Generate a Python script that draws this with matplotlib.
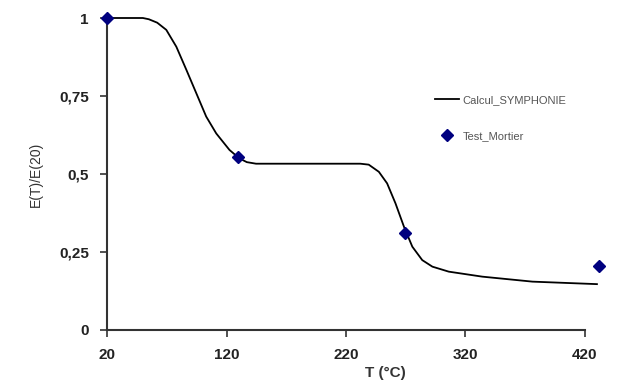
import matplotlib.pyplot as plt

# calculated curve (Calcul_SYMPHONIE)
calc_t = [20, 50, 55, 62, 69.6, 78, 86.5, 94.7, 103, 111.4, 122.5, 130.8, 137, 144.7,
          232, 239, 247.5, 254.4, 261.4, 268.5, 275.5, 283.8, 292.3, 306, 334, 376, 430]
calc_e = [1.0, 1.0, 0.996, 0.985, 0.962, 0.908, 0.833, 0.759, 0.684, 0.63, 0.577, 0.55, 0.538, 0.533,
          0.533, 0.53, 0.507, 0.47, 0.406, 0.331, 0.267, 0.224, 0.203, 0.187, 0.171, 0.155, 0.147]

# measured points (Test_Mortier)
test_t = [20, 130, 269, 432]
test_e = [1.0, 0.554, 0.311, 0.205]

xticks = [20, 120, 220, 320, 420]
yticks = [0, 0.25, 0.5, 0.75, 1]
ytick_labels = ['0', '0,25', '0,5', '0,75', '1']

fig = plt.figure(figsize=(6.42, 3.83), dpi=100)
ax = fig.add_axes([0.1667, 0.1384, 0.7445, 0.8146])

ax.plot(calc_t, calc_e, color='black', lw=1.3, clip_on=False, label='Calcul_SYMPHONIE',
        solid_joinstyle='round')
ax.plot(test_t, test_e, 'D', color='#00007f', ms=6, ls='none', clip_on=False,
        label='Test_Mortier', zorder=3)

ax.set_xlim(20, 420)
ax.set_ylim(0, 1)
ax.set_xticks(xticks)
ax.set_xticklabels([str(t) for t in xticks])
ax.set_yticks(yticks)
ax.set_yticklabels(ytick_labels)

for s in ['top', 'right']:
    ax.spines[s].set_visible(False)
for s in ['left', 'bottom']:
    ax.spines[s].set_color('#333333')
    ax.spines[s].set_linewidth(1.5)
ax.tick_params(direction='out', length=5, width=1.2, color='#333333', pad=8)
for lbl in ax.get_xticklabels() + ax.get_yticklabels():
    lbl.set_fontfamily('Liberation Sans')
    lbl.set_fontweight('bold')
    lbl.set_fontsize(11)
    lbl.set_color('#222222')

ax.set_ylabel('E(T)/E(20)', fontsize=10, family='Liberation Sans', color='#333333', labelpad=12)
# x label sits just right of the 220 tick label, a bit lower (like in the original)
fig.text(0.569, 0.008, 'T (°C)', fontsize=11, family='Liberation Sans', fontweight='bold',
         color='#333333', va='bottom')

leg = ax.legend(loc='upper left', bbox_to_anchor=(0.665, 0.785), frameon=False,
                prop={'family': 'Liberation Sans', 'size': 8}, handlelength=2.2,
                labelspacing=2.3, handletextpad=0.3)
for t in leg.get_texts():
    t.set_color('#555555')

fig.savefig('out.png', dpi=100)
